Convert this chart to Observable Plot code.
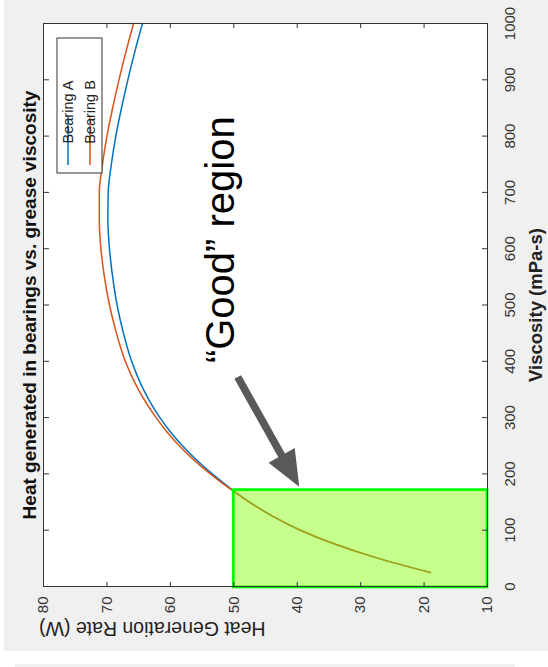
<!DOCTYPE html>
<html><head><meta charset="utf-8">
<script src="https://cdn.jsdelivr.net/npm/d3@7"></script>
<script src="https://cdn.jsdelivr.net/npm/@observablehq/plot@0.6"></script>
<style>
html,body{margin:0;padding:0;background:#fff;width:548px;height:667px;overflow:hidden;position:relative;}
#fig{position:absolute;left:0;top:0;width:651px;height:544px;background:#f0f0f0;transform-origin:0 0;transform:translate(4px,651px) rotate(-90deg);}
#strip{position:absolute;left:15px;top:664px;width:500px;height:3px;background:#f0f0f0;}
</style></head><body>
<div id="fig"></div><div id="strip"></div>
<script>
// ---- data ----
const viscosity = [25,50,75,100,125,150,175,200,225,250,275,300,325,350,375,400,425,450,500,550,600,650,700,750,800,850,900,950,1000];
const heatA = [19.0,27.2,34.0,39.5,43.9,47.5,50.6,53.4,55.9,58.1,60.0,61.65,63.05,64.25,65.25,66.1,66.8,67.4,68.4,69.1,69.6,69.85,69.8,69.3,68.6,67.7,66.7,65.6,64.4];
const heatB = [19.0,27.2,34.0,39.5,43.9,47.6,50.8,53.7,56.3,58.6,60.55,62.25,63.75,65.05,66.15,67.1,67.85,68.5,69.6,70.4,70.95,71.2,71.2,70.7,70.0,69.1,68.1,67.0,65.8];
const seriesNames = ["Bearing A", "Bearing B"];
const seriesColors = ["#0072BD", "#D95319"];
const viscTicks = [0,100,200,300,400,500,600,700,800,900,1000];
const heatTicks = [10,20,30,40,50,60,70,80];
const goodVisc = [0, 173];
const goodHeat = [10, 50];
const arrowVisc = [373, 178];   // tail, tip
const arrowHeat = [49.3, 39.6];
const goodLabel = ["\u201CGood\u201D region"];
const goodLabelVisc = [616];
const goodLabelHeat = [50];
const titleText = "Heat generated in bearings vs. grease viscosity";
const xLabel = "Viscosity (mPa-s)";
const yLabel = "Heat Generation Rate (W)";

const rows = viscosity.flatMap((v, i) => [
  {v, h: heatA[i], s: seriesNames[0]},
  {v, h: heatB[i], s: seriesNames[1]}
]);

const font = "'Liberation Sans', Arial, Helvetica, sans-serif";
const W = 651, H = 544, mL = 64, mR = 24, mT = 39, mB = 61;
const fmt = d => String(d);

const plot = Plot.plot({
  width: W, height: H,
  marginLeft: mL, marginRight: mR, marginTop: mT, marginBottom: mB,
  style: {background: "transparent", fontFamily: font, overflow: "visible"},
  x: {domain: [0, 1000]},
  y: {domain: [10, 80]},
  color: {domain: seriesNames, range: seriesColors},
  marks: [
    Plot.frame({fill: "white", stroke: null}),
    Plot.line(rows, {x: "v", y: "h", stroke: "s", z: "s", strokeWidth: 1.5, curve: "monotone-x"}),
    Plot.rect([0], {x1: goodVisc[0], x2: goodVisc[1], y1: goodHeat[0], y2: goodHeat[1],
      fill: "#80ff00", fillOpacity: 0.45, stroke: "#00ff00", strokeWidth: 2.7}),
    Plot.frame({stroke: "#333"}),
    Plot.axisX({anchor: "bottom", ticks: viscTicks, tickFormat: fmt, tickSize: 0, tickPadding: 17, fontSize: 15, label: null, color: "#333"}),
    Plot.axisX({anchor: "bottom", ticks: viscTicks, tickSize: -5, tickFormat: () => "", label: null, color: "#333"}),
    Plot.axisX({anchor: "top", ticks: viscTicks, tickSize: -5, tickFormat: () => "", label: null, color: "#333"}),
    Plot.axisY({anchor: "left", ticks: heatTicks, tickFormat: fmt, tickSize: 0, tickPadding: 10, fontSize: 15, label: null, color: "#333"}),
    Plot.axisY({anchor: "left", ticks: heatTicks, tickSize: -5, tickFormat: () => "", label: null, color: "#333"}),
    Plot.axisY({anchor: "right", ticks: heatTicks, tickSize: -5, tickFormat: () => "", label: null, color: "#333"}),
    Plot.text([titleText], {text: d => d, frameAnchor: "top", dy: -8, lineAnchor: "bottom", fontSize: 19, fontWeight: "bold", fill: "#111"}),
    Plot.text([xLabel], {text: d => d, frameAnchor: "bottom", dy: 54, lineAnchor: "bottom", fontSize: 18.5, fontWeight: "bold", fill: "#222"}),
    Plot.text([yLabel], {text: d => d, frameAnchor: "left", dx: -35, rotate: -90, lineAnchor: "bottom", fontSize: 19.5, fill: "#222"}),
    Plot.text(goodLabel, {text: d => d, x: goodLabelVisc, y: goodLabelHeat, lineAnchor: "bottom", fontSize: 40, fill: "#000"})
  ]
});

// arrow annotation drawn with the plot's own scales
const sx = plot.scale("x"), sy = plot.scale("y");
const T = [sx.apply(arrowVisc[0]), sy.apply(arrowHeat[0])];
const P = [sx.apply(arrowVisc[1]), sy.apply(arrowHeat[1])];
const len = Math.hypot(P[0] - T[0], P[1] - T[1]);
const d = [(P[0] - T[0]) / len, (P[1] - T[1]) / len];
const n = [-d[1], d[0]];
const headLen = 36, headHalf = 15, shaftHalf = 3.8;
const B = [P[0] - d[0] * headLen, P[1] - d[1] * headLen];
const pt = (p, k) => [p[0] + n[0] * k, p[1] + n[1] * k];
const poly = [pt(T, shaftHalf), pt(B, shaftHalf), pt(B, headHalf), P, pt(B, -headHalf), pt(B, -shaftHalf), pt(T, -shaftHalf)];
const svg = d3.select(plot);
svg.append("polygon").attr("points", poly.map(p => p.join(",")).join(" ")).attr("fill", "#595959");

// legend (top-right inside the axes)
const frameRight = W - mR, frameTop = mT;
const lx = frameRight - 14 - 135, ly = frameTop + 14;
const lg = svg.append("g").attr("font-family", font).attr("font-size", 14.5);
lg.append("rect").attr("x", lx).attr("y", ly).attr("width", 135).attr("height", 45)
  .attr("fill", "white").attr("stroke", "#333").attr("stroke-width", 1);
seriesNames.forEach((name, i) => {
  const yy = ly + 11 + i * 22;
  lg.append("line").attr("x1", lx + 8).attr("x2", lx + 56).attr("y1", yy).attr("y2", yy)
    .attr("stroke", seriesColors[i]).attr("stroke-width", 1.5);
  lg.append("text").attr("x", lx + 61).attr("y", yy).attr("dy", "0.35em").attr("fill", "#222").text(name);
});

document.getElementById("fig").appendChild(plot);
</script>
</body></html>
